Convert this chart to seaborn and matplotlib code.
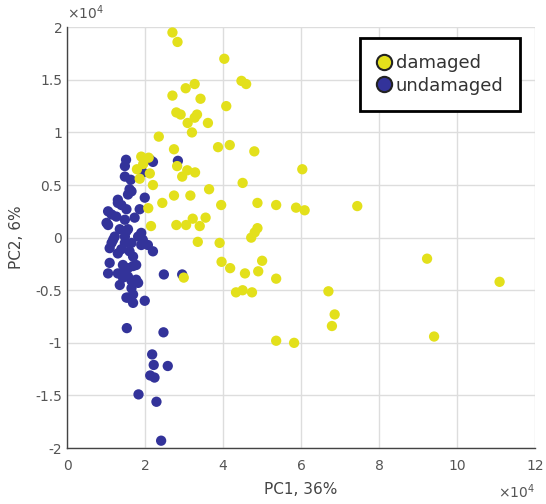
import numpy as np
import pandas as pd
import matplotlib
matplotlib.use("Agg")
import matplotlib.pyplot as plt
import seaborn as sns
from matplotlib.lines import Line2D

# values in units of 1e4
damaged_pc1 = [2.70, 2.83, 4.03, 4.47, 4.59, 3.27, 3.04, 2.70, 3.42, 4.08,
               2.80, 2.91, 3.33, 3.27, 3.09, 3.61, 3.20, 2.35, 3.87, 4.17,
               2.74, 4.80, 6.03, 1.90, 2.09, 1.79, 1.86, 2.12, 2.20, 2.82,
               3.08, 2.95, 3.28, 4.50, 3.64, 2.74, 3.16, 2.44, 3.95, 4.88,
               5.36, 5.87, 6.09, 7.44, 2.08, 2.15, 2.80, 3.05, 3.22, 3.40,
               3.55, 4.88, 4.81, 4.72, 3.35, 3.91, 3.96, 4.18, 4.56, 4.90,
               5.00, 4.33, 4.50, 4.74, 5.36, 2.99, 5.36, 5.82, 6.70, 6.86,
               6.79, 9.23, 9.41, 11.09, 1.95]
damaged_pc2 = [1.95, 1.86, 1.70, 1.49, 1.46, 1.46, 1.42, 1.35, 1.32, 1.25,
               1.19, 1.17, 1.17, 1.14, 1.09, 1.09, 1.00, 0.96, 0.86, 0.88,
               0.84, 0.82, 0.65, 0.77, 0.76, 0.65, 0.56, 0.61, 0.50, 0.68,
               0.64, 0.58, 0.62, 0.52, 0.46, 0.40, 0.40, 0.33, 0.31, 0.33,
               0.31, 0.285, 0.26, 0.30, 0.28, 0.11, 0.12, 0.12, 0.18, 0.11,
               0.19, 0.09, 0.05, 0.00, -0.04, -0.05, -0.23, -0.29, -0.34, -0.32,
               -0.22, -0.52, -0.50, -0.52, -0.39, -0.38, -0.98, -1.00, -0.51, -0.73,
               -0.84, -0.20, -0.94, -0.42, 0.70]

undamaged_pc1 = [1.51, 1.48, 2.13, 2.20, 2.84, 1.94, 1.48, 1.60, 1.56, 1.99,
                 1.30, 1.39, 1.52, 1.05, 1.14, 1.86, 1.26, 1.05, 1.35, 1.56,
                 1.22, 1.48, 1.82, 1.94, 1.14, 1.48, 2.07, 2.20, 1.30, 1.69,
                 1.09, 1.77, 1.56, 1.05, 1.39, 1.56, 1.35, 1.77, 1.82, 1.65,
                 1.69, 1.56, 1.69, 1.99, 2.48, 2.95, 1.53, 2.47, 2.18, 2.22,
                 2.58, 2.13, 2.24, 1.83, 2.29, 2.41, 1.65, 1.30, 1.01, 1.52,
                 1.90, 1.18, 1.65, 1.90, 1.09, 1.39, 1.60, 1.43, 1.69, 1.30,
                 1.43, 1.52, 1.65, 1.48, 1.73, 1.63]
undamaged_pc2 = [0.74, 0.68, 0.74, 0.72, 0.73, 0.62, 0.58, 0.46, 0.41, 0.38,
                 0.36, 0.31, 0.27, 0.25, 0.22, 0.27, 0.20, 0.12, 0.08, 0.08,
                 0.01, 0.01, 0.01, -0.02, -0.05, -0.05, -0.07, -0.13, -0.15, -0.18,
                 -0.24, -0.26, -0.29, -0.34, -0.34, -0.37, -0.45, -0.40, -0.43, -0.48,
                 -0.54, -0.57, -0.62, -0.60, -0.35, -0.35, -0.86, -0.90, -1.11, -1.21,
                 -1.22, -1.31, -1.33, -1.49, -1.56, -1.93, 0.44, 0.33, 0.14, 0.06,
                 0.045, -0.02, -0.05, -0.07, -0.10, -0.11, -0.13, -0.26, -0.27, -0.34,
                 -0.38, -0.57, -0.41, 0.17, 0.19, 0.55]

groups = ["damaged", "undamaged"]
x_ticks = [0, 2, 4, 6, 8, 10, 12]
y_ticks = [-2, -1.5, -1, -0.5, 0, 0.5, 1, 1.5, 2]
y_tick_labels = ["-2", "-1.5", "-1", "-0.5", "0", "0.5", "1", "1.5", "2"]
x_label = "PC1, 36%"
y_label = "PC2, 6%"
scale = 1e4

colors = {"damaged": "#E3E01B", "undamaged": "#33339A"}

# undamaged first so damaged markers are drawn on top
df = pd.concat([
    pd.DataFrame({"PC1": np.array(undamaged_pc1) * scale,
                  "PC2": np.array(undamaged_pc2) * scale,
                  "group": groups[1]}),
    pd.DataFrame({"PC1": np.array(damaged_pc1) * scale,
                  "PC2": np.array(damaged_pc2) * scale,
                  "group": groups[0]}),
], ignore_index=True)

sns.set_style("white")
plt.rcParams["font.family"] = ["DejaVu Sans"]

fig = plt.figure(figsize=(5.46, 5.04), dpi=100)
ax = fig.add_axes([0.123, 0.111, 0.857, 0.835])

sns.scatterplot(data=df, x="PC1", y="PC2", hue="group", palette=colors,
                s=55, linewidth=0, edgecolor="none",
                alpha=1.0, ax=ax, legend=False, zorder=3)

ax.set_xlim(0, 12 * scale)
ax.set_ylim(-2 * scale, 2 * scale)
ax.set_xticks([t * scale for t in x_ticks])
ax.set_xticklabels([str(t) for t in x_ticks])
ax.set_yticks([t * scale for t in y_ticks])
ax.set_yticklabels(y_tick_labels)
ax.grid(True, color="#DDDDDD", linewidth=1.0, zorder=0)
ax.set_axisbelow(True)
for s in ["top", "right"]:
    ax.spines[s].set_visible(False)
for s in ["left", "bottom"]:
    ax.spines[s].set_color("#444444")
    ax.spines[s].set_linewidth(1.0)
ax.tick_params(direction="in", length=3, colors="#555555", labelsize=10,
               width=0.8)
ax.tick_params(axis="x", pad=8)
ax.set_xlabel(x_label, fontsize=11, color="#444444", labelpad=6)
ax.set_ylabel(y_label, fontsize=11, color="#444444", labelpad=8)

ax.text(0.0, 1.012, r"$\times\mathregular{10^4}$", transform=ax.transAxes,
        fontsize=10, color="#555555", ha="left", va="bottom")
ax.text(1.0, -0.082, r"$\times\mathregular{10^4}$", transform=ax.transAxes,
        fontsize=10, color="#555555", ha="right", va="top")

handles = [Line2D([0], [0], marker="o", linestyle="none", markersize=11,
                  markerfacecolor=colors[g], markeredgecolor="#222222",
                  markeredgewidth=1.5, label=g) for g in groups]
leg = ax.legend(handles=handles, loc="upper right", bbox_to_anchor=(0.967, 0.975),
                fontsize=13, frameon=True, fancybox=False, handletextpad=0.2,
                borderpad=0.9, labelspacing=0.25, handlelength=0.9,
                borderaxespad=0)
leg.get_frame().set_edgecolor("black")
leg.get_frame().set_linewidth(2.0)
leg.get_frame().set_alpha(1.0)
for t in leg.get_texts():
    t.set_color("#333333")

fig.savefig("out.png", dpi=100)
